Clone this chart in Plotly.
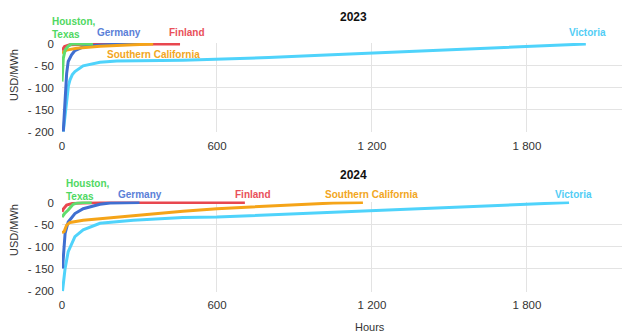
import plotly.graph_objects as go

# ---------------- data ----------------
years = ["2023", "2024"]
regions = ["Victoria", "Finland", "Germany", "Southern California", "Houston, Texas"]
colors = {
    "Victoria": "#4fd3fb",
    "Finland": "#e8474f",
    "Germany": "#3f6fd1",
    "Southern California": "#f5a418",
    "Houston, Texas": "#5fdc6e",
}
label_colors = {
    "Victoria": "#52cdf5",
    "Finland": "#e9505a",
    "Germany": "#5b80d8",
    "Southern California": "#f2a622",
    "Houston, Texas": "#4fd862",
}

# hours (sorted duration) and negative price values, USD/MWh
hours_2023 = {
    "Houston, Texas": [0, 5, 12, 24, 37, 60, 120],
    "Germany": [5, 12, 18, 24, 37, 50, 80, 130, 200, 300],
    "Finland": [0, 10, 30, 60, 120, 457],
    "Southern California": [0, 18, 57, 147, 276, 353],
    "Victoria": [5, 12, 18, 25, 31, 40, 50, 82, 147, 212, 468, 600, 800, 1000,
                 1200, 1500, 1800, 2000, 2028],
}
price_2023 = {
    "Houston, Texas": [-86, -33, -14, -5, 0, 0, 0],
    "Germany": [-200, -120, -67, -40, -25, -15, -7, -3, -1, 0],
    "Finland": [-15, -6, -2, -1, 0, 0],
    "Southern California": [-21, -14, -10, -5, -2, 0],
    "Victoria": [-200, -160, -120, -95, -82, -70, -63, -50, -42, -39, -37, -35,
                 -31, -26, -21, -14, -6, -1, 0],
}
hours_2024 = {
    "Houston, Texas": [0, 10, 24, 35, 43, 60, 80, 115],
    "Germany": [2, 12, 24, 50, 82, 147, 186, 300],
    "Finland": [0, 5, 18, 40, 80, 150, 708],
    "Southern California": [0, 8, 12, 18, 31, 82, 147, 276, 341, 468, 600, 792,
                            921, 1050, 1165],
    "Victoria": [2, 12, 24, 50, 82, 147, 276, 468, 600, 900, 1200, 1500, 1800,
                 1963],
}
price_2024 = {
    "Houston, Texas": [-33, -25, -17, -9, -4, -1, 0, 0],
    "Germany": [-149, -70, -44, -25, -14, -4, -1, 0],
    "Finland": [-21, -15, -6, -2, -1, 0, 0],
    "Southern California": [-68, -66, -60, -51, -45, -40, -37, -30, -26, -20,
                            -14, -8, -4, -1, 0],
    "Victoria": [-200, -149, -111, -77, -62, -47, -40, -34, -33, -26, -19, -12,
                 -4, 0],
}

x_tickvals = [0, 600, 1200, 1800]
x_ticktext = ["0", "600", "1 200", "1 800"]
y_tickvals = [0, -50, -100, -150, -200]
y_ticktext = ["0", "-\u00a050", "-\u00a0100", "-\u00a0150", "-\u00a0200"]

FONT = "Liberation Sans, Arial, sans-serif"
W, H = 622, 333

fig = go.Figure()
for reg in regions:
    fig.add_trace(go.Scatter(x=hours_2023[reg], y=price_2023[reg], mode="lines",
                             line=dict(color=colors[reg], width=3),
                             xaxis="x", yaxis="y", showlegend=False))
for reg in regions:
    fig.add_trace(go.Scatter(x=hours_2024[reg], y=price_2024[reg], mode="lines",
                             line=dict(color=colors[reg], width=3),
                             xaxis="x2", yaxis="y2", showlegend=False))

axis_common = dict(showgrid=True, gridcolor="#e3e3e3", gridwidth=1,
                   zeroline=False, showline=False, ticks="",
                   tickfont=dict(family=FONT, size=11.5, color="#333333"),
                   automargin=False)

xr = [0, 2168]
xax = dict(domain=[0, 1], range=xr, tickvals=x_tickvals, ticktext=x_ticktext,
           ticklabelstandoff=5, **axis_common)
yax = dict(range=[-202, 2], tickvals=y_tickvals, ticktext=y_ticktext,
           ticklabelstandoff=7, **axis_common)
fig.update_layout(
    width=W, height=H,
    margin=dict(l=62, r=0, t=0, b=0),
    paper_bgcolor="white", plot_bgcolor="white",
    font=dict(family=FONT),
    xaxis=dict(anchor="y", **xax),
    yaxis=dict(domain=[0.6024, 0.8706], anchor="x", **yax),
    xaxis2=dict(anchor="y2", **xax),
    yaxis2=dict(domain=[0.1234, 0.3946], anchor="x2", **yax),
)


def px_x(p):
    return (p - 62) / (W - 62)


def px_y(p):
    return 1 - p / H


ann = []
# titles
for t, yp in (("2023", 17), ("2024", 175)):
    ann.append(dict(text="<b>" + t + "</b>", x=px_x(353), y=px_y(yp),
                    xref="paper", yref="paper", showarrow=False,
                    font=dict(family=FONT, size=12, color="#111111"),
                    xanchor="center", yanchor="middle"))

# y titles and x title
for yc in (75, 230):
    ann.append(dict(text="USD/MWh", x=px_x(14), y=px_y(yc), xref="paper",
                    yref="paper", showarrow=False, textangle=-90,
                    font=dict(family=FONT, size=11, color="#333333"),
                    xanchor="center", yanchor="middle"))
ann.append(dict(text="Hours", x=px_x(370), y=px_y(327), xref="paper",
                yref="paper", showarrow=False,
                font=dict(family=FONT, size=11, color="#333333"),
                xanchor="center", yanchor="middle"))

# series labels: (region, x px, y px, anchor)
labels = [
    ("Houston, Texas", 50, 28, "left"),
    ("Germany", 119, 32.5, "center"),
    ("Finland", 187, 32, "center"),
    ("Southern California", 153, 54, "center"),
    ("Victoria", 587, 32.5, "center"),
    ("Houston, Texas", 64, 189.5, "left"),
    ("Germany", 140, 194, "center"),
    ("Finland", 253, 194, "center"),
    ("Southern California", 371, 194, "center"),
    ("Victoria", 573, 194, "center"),
]
for reg, xp, yp, anc in labels:
    txt = "Houston,<br>Texas" if reg == "Houston, Texas" else reg
    ann.append(dict(text="<b>" + txt + "</b>", x=px_x(xp), y=px_y(yp),
                    xref="paper", yref="paper", showarrow=False,
                    xanchor=anc, yanchor="middle", align="left",
                    font=dict(family=FONT, size=10, color=label_colors[reg])))

fig.update_layout(annotations=ann)
fig.write_html("out.html")
